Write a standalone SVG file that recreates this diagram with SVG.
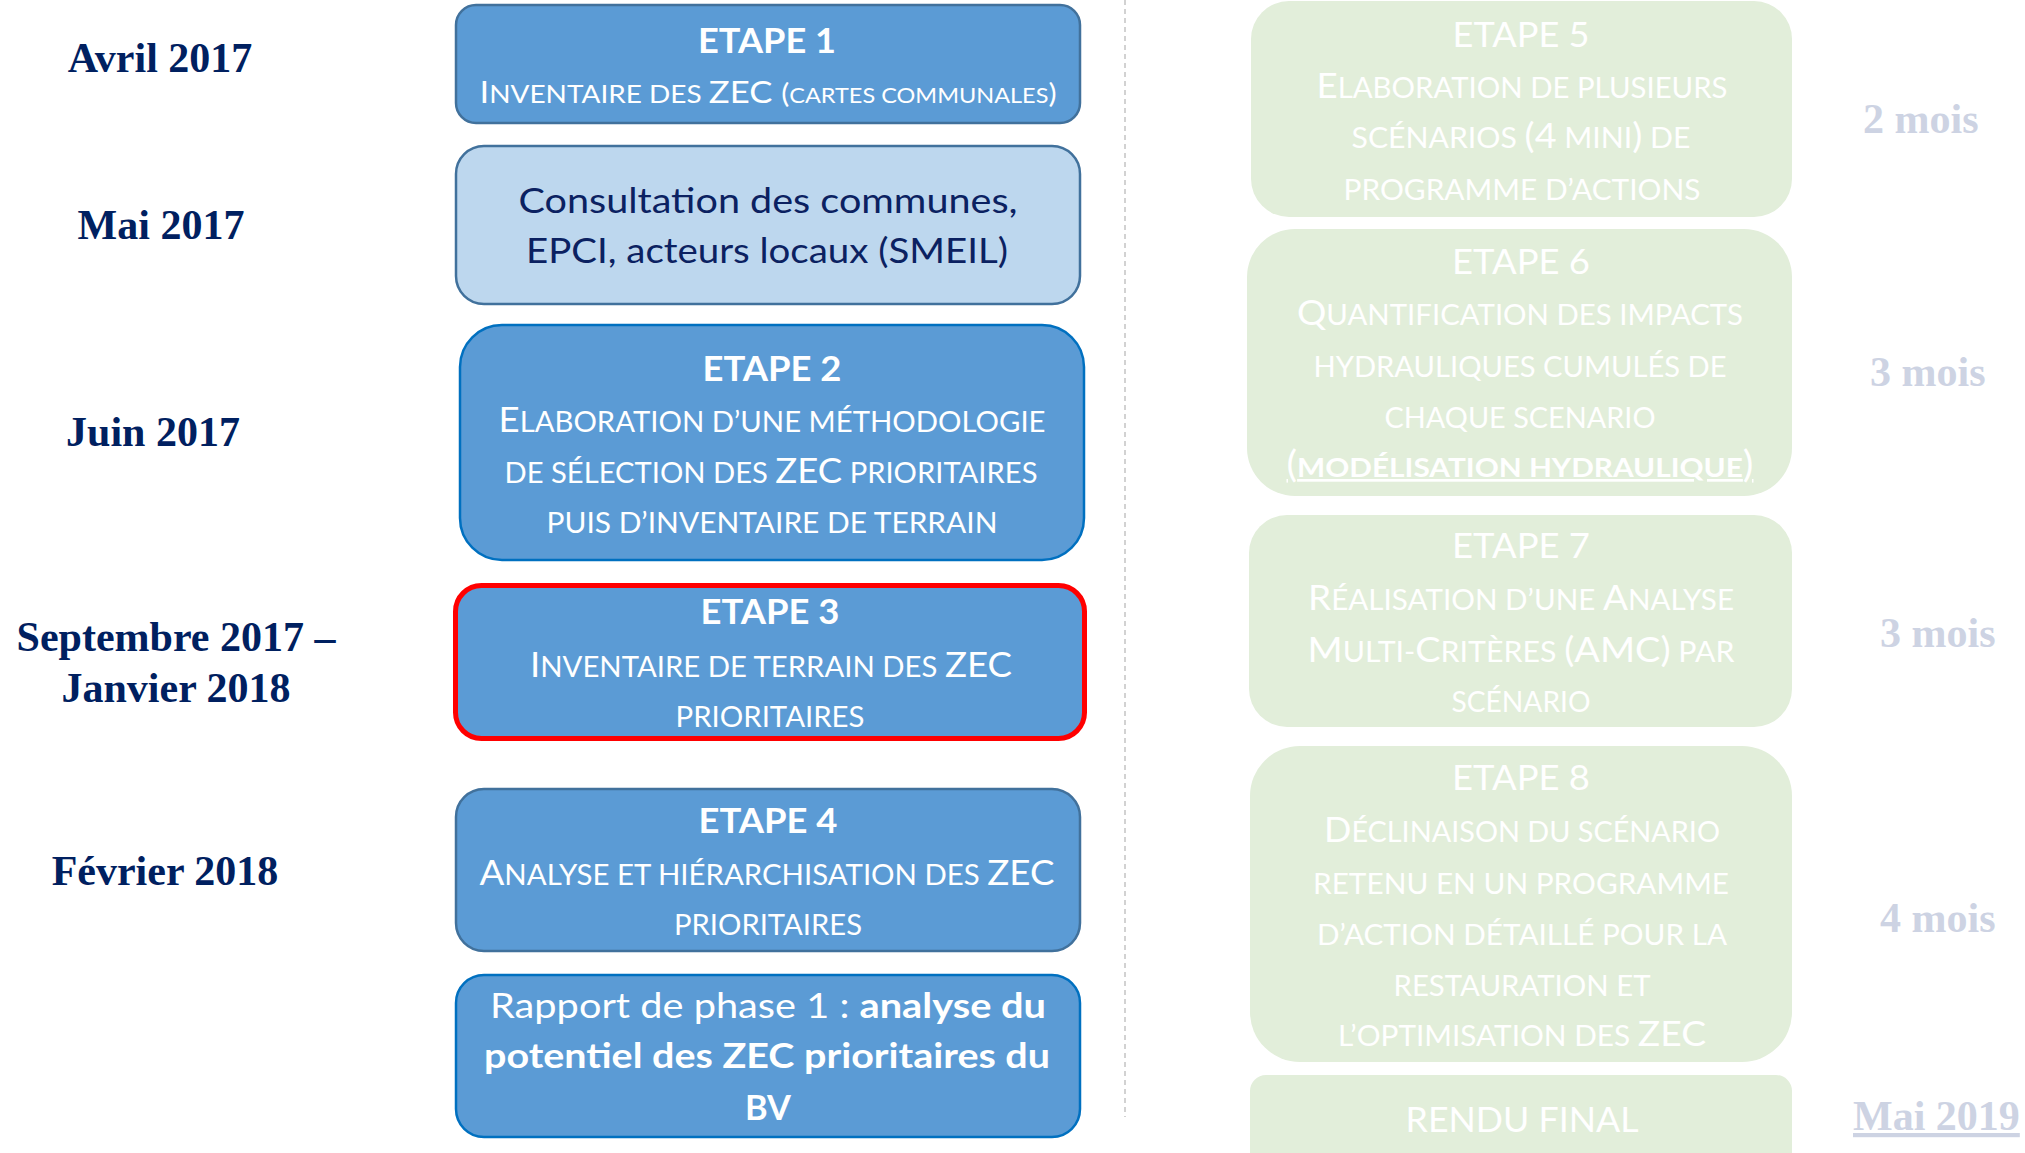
<svg xmlns="http://www.w3.org/2000/svg" width="2025" height="1153" viewBox="0 0 2025 1153">
<style>
.t{font-family:Lato,"Open Sans","Liberation Sans",sans-serif;fill:#ffffff;text-anchor:middle}
.sm{font-size:28px}
.b{font-size:35px}
.et{font-weight:700;font-size:35px}
.etg{font-size:34px}
.cons{font-size:35px;fill:#0B2161}
.rap{font-size:35px}
.bd{font-weight:700}
.blue{fill:#5B9BD5}
.s1{stroke:#41719C;stroke-width:2.5}
.s2{stroke:#0070C0;stroke-width:2.5}
.green{fill:#E2EEDA}
.date{font-family:"Liberation Serif","Times New Roman",serif;font-weight:700;font-size:42px;fill:#002060;text-anchor:middle}
.dur{font-family:"Liberation Serif","Times New Roman",serif;font-weight:700;font-size:42px;fill:#CDD3E3}
</style>

<g id="divider">
<line x1="1125" y1="0" x2="1125" y2="1117" stroke="#C4C4C4" stroke-width="1.5" stroke-dasharray="5 4"/>
</g>

<g id="connectors"></g>

<g id="dates">
<text class="date" x="160" y="72">Avril 2017</text>
<text class="date" x="161" y="239">Mai 2017</text>
<text class="date" x="153" y="446">Juin 2017</text>
<text class="date" x="176" y="651">Septembre 2017 –</text>
<text class="date" x="176" y="702">Janvier 2018</text>
<text class="date" x="165" y="885">Février 2018</text>
</g>

<g id="etape1">
<rect class="blue s1" x="456" y="5" width="624" height="118" rx="20"/>
<text class="t et" x="767" y="53" textLength="138" lengthAdjust="spacingAndGlyphs">ETAPE 1</text>
<text class="t" x="768" y="103" font-size="24" textLength="577" lengthAdjust="spacingAndGlyphs"><tspan font-size="31">I</tspan><tspan font-size="25">NVENTAIRE DES </tspan><tspan font-size="31">ZEC </tspan><tspan font-size="27">(</tspan><tspan font-size="21">CARTES COMMUNALES</tspan><tspan font-size="27">)</tspan></text>
</g>

<g id="consultation">
<rect fill="#BDD7EE" class="s1" x="456" y="146" width="624" height="158" rx="28"/>
<text class="t cons" x="768" y="213" textLength="499" lengthAdjust="spacingAndGlyphs">Consultation des communes,</text>
<text class="t cons" x="767" y="263" textLength="482" lengthAdjust="spacingAndGlyphs">EPCI, acteurs locaux (SMEIL)</text>
</g>

<g id="etape2">
<rect class="blue s2" x="460" y="325" width="624" height="235" rx="42"/>
<text class="t et" x="772" y="381" textLength="139" lengthAdjust="spacingAndGlyphs">ETAPE 2</text>
<text class="t sm" x="772" y="432" textLength="547" lengthAdjust="spacingAndGlyphs"><tspan class="b">E</tspan>LABORATION D’UNE MÉTHODOLOGIE</text>
<text class="t sm" x="771" y="483" textLength="533" lengthAdjust="spacingAndGlyphs">DE SÉLECTION DES <tspan class="b">ZEC</tspan> PRIORITAIRES</text>
<text class="t sm" x="772" y="533" textLength="451" lengthAdjust="spacingAndGlyphs">PUIS D’INVENTAIRE DE TERRAIN</text>
</g>

<g id="etape3">
<rect class="blue" stroke="#FF0000" stroke-width="5" x="455.5" y="585.5" width="629" height="153" rx="26"/>
<text class="t et" x="770" y="624" textLength="139" lengthAdjust="spacingAndGlyphs">ETAPE 3</text>
<text class="t sm" x="771" y="677" textLength="482" lengthAdjust="spacingAndGlyphs"><tspan class="b">I</tspan>NVENTAIRE DE TERRAIN DES <tspan class="b">ZEC</tspan></text>
<text class="t sm" x="770" y="727" textLength="189" lengthAdjust="spacingAndGlyphs">PRIORITAIRES</text>
</g>

<g id="etape4">
<rect class="blue s1" x="456" y="789" width="624" height="162" rx="28"/>
<text class="t et" x="768" y="833" textLength="139" lengthAdjust="spacingAndGlyphs">ETAPE 4</text>
<text class="t sm" x="767" y="885" textLength="575" lengthAdjust="spacingAndGlyphs"><tspan class="b">A</tspan>NALYSE ET HIÉRARCHISATION DES <tspan class="b">ZEC</tspan></text>
<text class="t sm" x="768" y="935" textLength="188" lengthAdjust="spacingAndGlyphs">PRIORITAIRES</text>
</g>

<g id="rapport">
<rect class="blue s2" x="456" y="975" width="624" height="162" rx="28"/>
<text class="t rap" x="768" y="1018" textLength="556" lengthAdjust="spacingAndGlyphs">Rapport de phase 1 : <tspan class="bd">analyse du</tspan></text>
<text class="t rap bd" x="767" y="1068" textLength="566" lengthAdjust="spacingAndGlyphs">potentiel des ZEC prioritaires du</text>
<text class="t rap bd" x="768" y="1120" textLength="46" lengthAdjust="spacingAndGlyphs">BV</text>
</g>

<g id="etape5">
<rect class="green" x="1251" y="1" width="541" height="216" rx="38"/>
<text class="t etg" x="1521" y="47" textLength="137" lengthAdjust="spacingAndGlyphs">ETAPE 5</text>
<text class="t sm" x="1522" y="98" textLength="411" lengthAdjust="spacingAndGlyphs"><tspan class="b">E</tspan>LABORATION DE PLUSIEURS</text>
<text class="t sm" x="1521" y="148" textLength="339" lengthAdjust="spacingAndGlyphs">SCÉNARIOS <tspan class="b">(4</tspan> MINI<tspan class="b">)</tspan> DE</text>
<text class="t sm" x="1522" y="200" textLength="357" lengthAdjust="spacingAndGlyphs">PROGRAMME D’ACTIONS</text>
</g>

<g id="etape6">
<rect class="green" x="1247" y="229" width="545" height="267" rx="48"/>
<text class="t etg" x="1521" y="274" textLength="138" lengthAdjust="spacingAndGlyphs">ETAPE 6</text>
<text class="t sm" x="1520" y="325" textLength="446" lengthAdjust="spacingAndGlyphs"><tspan class="b">Q</tspan>UANTIFICATION DES IMPACTS</text>
<text class="t sm" x="1520" y="377" textLength="413" lengthAdjust="spacingAndGlyphs">HYDRAULIQUES CUMULÉS DE</text>
<text class="t sm" x="1520" y="428" textLength="271" lengthAdjust="spacingAndGlyphs">CHAQUE SCENARIO</text>
<text class="t bd" x="1520" y="477" font-size="27" text-decoration="underline" textLength="467" lengthAdjust="spacingAndGlyphs"><tspan font-size="36" font-weight="400">(</tspan>MODÉLISATION HYDRAULIQUE<tspan font-size="36" font-weight="400">)</tspan></text>
</g>

<g id="etape7">
<rect class="green" x="1249" y="515" width="543" height="212" rx="38"/>
<text class="t etg" x="1521" y="558" textLength="138" lengthAdjust="spacingAndGlyphs">ETAPE 7</text>
<text class="t sm" x="1521" y="610" textLength="426" lengthAdjust="spacingAndGlyphs"><tspan class="b">R</tspan>ÉALISATION D’UNE <tspan class="b">A</tspan>NALYSE</text>
<text class="t sm" x="1521" y="662" textLength="427" lengthAdjust="spacingAndGlyphs"><tspan class="b">M</tspan>ULTI-<tspan class="b">C</tspan>RITÈRES <tspan class="b">(AMC)</tspan> PAR</text>
<text class="t sm" x="1521" y="712" textLength="139" lengthAdjust="spacingAndGlyphs">SCÉNARIO</text>
</g>

<g id="etape8">
<rect class="green" x="1250" y="746" width="542" height="316" rx="50"/>
<text class="t etg" x="1521" y="790" textLength="138" lengthAdjust="spacingAndGlyphs">ETAPE 8</text>
<text class="t sm" x="1522" y="842" textLength="396" lengthAdjust="spacingAndGlyphs"><tspan class="b">D</tspan>ÉCLINAISON DU SCÉNARIO</text>
<text class="t sm" x="1521" y="894" textLength="416" lengthAdjust="spacingAndGlyphs">RETENU EN UN PROGRAMME</text>
<text class="t sm" x="1522" y="945" textLength="410" lengthAdjust="spacingAndGlyphs">D’ACTION DÉTAILLÉ POUR LA</text>
<text class="t sm" x="1522" y="996" textLength="257" lengthAdjust="spacingAndGlyphs">RESTAURATION ET</text>
<text class="t sm" x="1522" y="1046" textLength="368" lengthAdjust="spacingAndGlyphs">L’OPTIMISATION DES <tspan class="b">ZEC</tspan></text>
</g>

<g id="rendu">
<rect class="green" x="1250" y="1075" width="542" height="110" rx="16"/>
<text class="t" font-size="35" x="1522" y="1132" textLength="233" lengthAdjust="spacingAndGlyphs">RENDU FINAL</text>
</g>

<g id="durees">
<text class="dur" x="1863" y="133">2 mois</text>
<text class="dur" x="1870" y="386">3 mois</text>
<text class="dur" x="1880" y="647">3 mois</text>
<text class="dur" x="1880" y="932">4 mois</text>
<text class="dur" x="1853" y="1130" text-decoration="underline">Mai 2019</text>
</g>
</svg>
